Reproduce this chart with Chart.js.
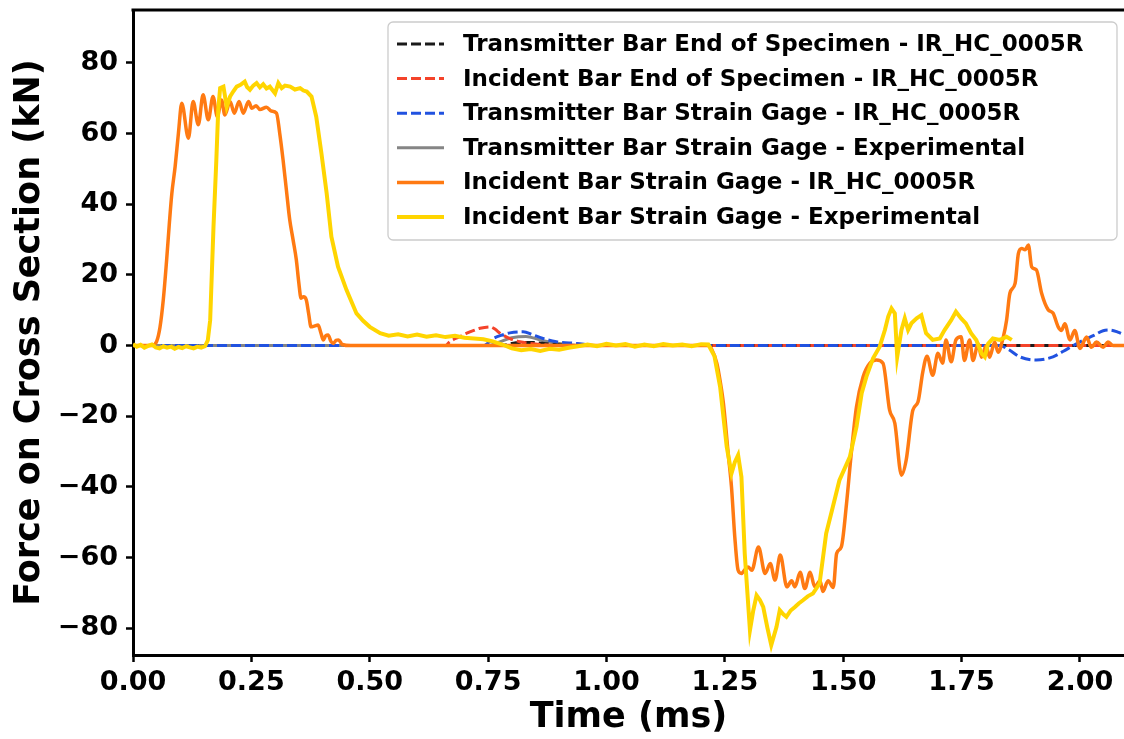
<!DOCTYPE html>
<html>
<head>
<meta charset="utf-8">
<title>Force on Cross Section</title>
<script src="https://cdn.jsdelivr.net/npm/chart.js@4.4.1/dist/chart.umd.min.js"></script>
<style>
  html, body { margin: 0; padding: 0; background: #fff; overflow: hidden; }
  canvas { display: block; }
</style>
</head>
<body>
<canvas id="force-chart" width="1124" height="739"></canvas>
<script>
'use strict';

// axis ticks
const xTicks = [0, 0.25, 0.5, 0.75, 1.0, 1.25, 1.5, 1.75, 2.0];
const yTicks = [-80, -60, -40, -20, 0, 20, 40, 60, 80];

// Transmitter bar, end of specimen (IR_HC_0005R)
const transEndT = [0, 0.78, 0.80, 0.84, 0.88, 0.95, 2.10];
const transEndF = [0, 0, 0.6, 0.9, 0.4, 0, 0];

// Incident bar, end of specimen (IR_HC_0005R)
const incEndT = [0, 0.660, 0.669, 0.690, 0.705, 0.720, 0.733, 0.754, 0.765, 0.775, 0.796, 0.817, 0.840, 0.860, 0.900, 2.10];
const incEndF = [0, 0, 1.1, 2.5, 3.5, 4.3, 4.9, 5.3, 4.6, 3.5, 2.0, 1.1, 0.6, 0.3, 0, 0];

// Transmitter bar strain gage (IR_HC_0005R)
const transSgT = [0, 0.740, 0.761, 0.780, 0.796, 0.824, 0.845, 0.866, 0.894, 0.937, 0.980, 1.830, 1.850, 1.873, 1.908, 1.943, 1.965, 1.986, 2.008, 2.028, 2.049, 2.063, 2.080, 2.100];
const transSgF = [0, 0, 2.0, 3.0, 3.6, 3.9, 3.0, 2.0, 1.1, 0.6, 0, 0, -1.2, -3.2, -4.1, -3.2, -1.6, 0, 1.6, 2.8, 4.2, 4.4, 3.8, 2.6];

// Transmitter bar strain gage (experimental)
const transExpT = [0, 0.75, 0.77, 0.80, 0.83, 0.86, 0.90, 0.95, 1.856];
const transExpF = [0, 0, 0.8, 2.2, 2.6, 1.6, 0.6, 0, 0];

// Incident bar strain gage (IR_HC_0005R)
const incSgT = [
  0, 0.040, 0.050, 0.057, 0.064, 0.071, 0.077, 0.082, 0.089, 0.096, 0.103, 0.117, 0.127, 0.138, 0.148,
  0.159, 0.169, 0.178, 0.187, 0.194, 0.205, 0.214, 0.224, 0.233, 0.244, 0.251, 0.260, 0.268, 0.282,
  0.292, 0.303, 0.310, 0.317, 0.324, 0.331, 0.338, 0.345, 0.350, 0.355, 0.360, 0.366, 0.371, 0.376,
  0.383, 0.391, 0.397, 0.402, 0.407, 0.412, 0.418, 0.423, 0.429, 0.434, 0.442, 0.460,
  1.215, 1.222, 1.233, 1.240, 1.247, 1.257, 1.264, 1.271, 1.278, 1.285, 1.292, 1.299, 1.307, 1.321,
  1.335, 1.346, 1.356, 1.367, 1.381, 1.391, 1.398, 1.409, 1.419, 1.430, 1.440, 1.451, 1.457, 1.468,
  1.479, 1.486, 1.496, 1.507, 1.517, 1.528, 1.542, 1.556, 1.570, 1.584, 1.598, 1.609, 1.623, 1.633,
  1.647, 1.658, 1.668, 1.677, 1.689, 1.700, 1.710, 1.717, 1.728, 1.738, 1.749, 1.756, 1.767, 1.774,
  1.785, 1.792, 1.802, 1.809, 1.820, 1.827, 1.838, 1.845, 1.852, 1.863, 1.870, 1.877, 1.884, 1.891,
  1.898, 1.908, 1.919, 1.933, 1.943, 1.954, 1.961, 1.968, 1.979, 1.989, 2.000, 2.014, 2.024, 2.035,
  2.049, 2.059, 2.070, 2.100
];
const incSgF = [
  0, 0, 1.2, 5.2, 13, 24.2, 35, 43, 50.7, 60.2, 68.6, 58.7, 69.1, 62.5, 71,
  63.9, 70.5, 64.8, 69.5, 65.3, 69.1, 65.8, 69.1, 65.8, 69.1, 67.2, 67.9, 66.8, 67.5,
  66.4, 65.8, 60, 52.5, 44, 35.6, 30, 24.2, 18, 13.4, 13.8, 12.9, 9, 5.3,
  5.5, 5.8, 3.5, 1.6, 2.8, 3.0, 1.2, 0.6, 1.5, 1.6, 0.3, 0,
  0, -1, -5, -10, -16.4, -30.5, -40, -54.2, -63.6, -64.5, -63.5, -62.7, -63.6, -57,
  -64.5, -61.7, -66.4, -59.3, -68.3, -66.6, -68.3, -64.2, -68.8, -64.2, -68.3, -66.6, -69.6, -66.6,
  -68.5, -58.9, -57, -44.7, -30.5, -17.3, -8.8, -5, -4.1, -5, -18.3, -22, -36.7, -32.4,
  -18.3, -15.9, -7.5, -3, -8.4, -2.2, -5, 1.6, -4.6, 1.6, 2.5, -4.2, 1.6, -4.2,
  0.5, -3.3, 0, -3.3, 1, -1.9, 2.4, 7.2, 14.8, 17.6, 26.1, 27.5, 27.1, 28.5,
  22.3, 21.4, 14.8, 10.1, 9.2, 5.3, 4.3, 6.2, 1.6, 4.3, -0.8, 2.4, -0.5, 1.0,
  -0.5, 1.0, 0, 0
];

// Incident bar strain gage (experimental)
const incExpT = [
  0.000, 0.008, 0.016, 0.024, 0.032, 0.040, 0.048, 0.056, 0.064, 0.072, 0.080, 0.088, 0.096, 0.104,
  0.112, 0.120, 0.128, 0.136, 0.144, 0.152, 0.158, 0.163, 0.170, 0.176, 0.180, 0.184, 0.191, 0.198,
  0.205, 0.212, 0.219, 0.227, 0.236, 0.241, 0.247, 0.254, 0.261, 0.268, 0.275, 0.282, 0.289, 0.300,
  0.307, 0.314, 0.321, 0.332, 0.342, 0.353, 0.360, 0.367, 0.377, 0.387, 0.398, 0.409, 0.419, 0.433,
  0.451, 0.472, 0.486, 0.500, 0.522, 0.540, 0.560, 0.580, 0.600, 0.620, 0.640, 0.660, 0.680, 0.700,
  0.720, 0.740, 0.760, 0.780, 0.800, 0.820, 0.840, 0.860, 0.880, 0.900, 0.920, 0.940, 0.960, 0.980,
  1.000, 1.020, 1.040, 1.060, 1.080, 1.100, 1.120, 1.140, 1.160, 1.180, 1.200, 1.215, 1.228, 1.240,
  1.254, 1.264, 1.271, 1.278, 1.285, 1.292, 1.303, 1.310, 1.317, 1.324, 1.331, 1.340, 1.348, 1.359,
  1.366, 1.373, 1.380, 1.389, 1.398, 1.406, 1.415, 1.425, 1.436, 1.450, 1.464, 1.478, 1.492, 1.514,
  1.528, 1.539, 1.549, 1.563, 1.577, 1.588, 1.595, 1.602, 1.609, 1.614, 1.623, 1.630, 1.637, 1.644,
  1.655, 1.665, 1.675, 1.689, 1.704, 1.714, 1.728, 1.738, 1.749, 1.759, 1.770, 1.781, 1.792, 1.799,
  1.806, 1.816, 1.831, 1.845, 1.856
];
const incExpF = [
  0.4, -0.3, 0.2, -0.6, -0.1, 0.3, -0.5, -0.8, -0.2, -0.6, -0.3, -0.9, -0.4, -0.7,
  -0.2, -0.5, -0.8, -0.3, -0.6, -0.2, 1.5, 7.2, 33.6, 52.5, 66.7, 72.9, 73.3, 67.6,
  70.5, 72, 73.3, 73.8, 74.7, 73.2, 72.4, 73.6, 74.3, 73.1, 74.0, 72.8, 73.3, 71.4,
  74.3, 72.9, 73.6, 73.3, 72.5, 72.9, 72.2, 71.9, 70.5, 64.8, 54.4, 43.1, 30.8, 22.3,
  15.7, 9.1, 7, 5.3, 3.5, 2.8, 3.2, 2.6, 3.1, 2.5, 2.9, 2.4, 2.8, 2.2,
  2.0, 1.8, 1.2, 0.3, -0.8, -1.3, -1.0, -1.5, -0.9, -1.2, -0.6, -0.2, 0.3, -0.2,
  0.5, 0, 0.4, -0.3, 0.3, -0.2, 0.4, 0, 0.3, -0.2, 0.4, 0.3, -3, -11.7,
  -28.7, -36.2, -33, -31, -37.2, -58.9, -80.6, -75, -70.7, -72, -74, -80, -84.8, -79.7,
  -74.9, -76, -76.8, -75, -74, -73, -72.1, -71, -70.2, -67.4, -53.2, -45.7, -38.1, -31.5,
  -23, -13.5, -8.8, -3.6, -0.3, 4.4, 8.2, 10.5, 9.1, -3.2, 4.4, 7.7, 4.4, 6.3,
  7.7, 8.6, 3.5, 1.6, 2, 4.4, 7.2, 9.6, 7.7, 6.3, 3.5, 1.6, -2.2, -3.2,
  0.5, 2, 1.6, 2.5, 1.6
];

const FONT = 'DejaVu Sans';
Chart.defaults.font.family = FONT;
Chart.defaults.color = '#000';

function pts(t, f) {
  return t.map((v, i) => ({ x: v, y: f[i] }));
}

function fmtY(v) {
  return v < 0 ? '\u2212' + Math.abs(v) : String(v);
}

// top spine (matplotlib box) – the right one is cut off in the picture
const topSpine = {
  id: 'topSpine',
  afterDraw(chart) {
    const { ctx, chartArea } = chart;
    ctx.save();
    ctx.strokeStyle = '#000';
    ctx.lineWidth = 3;
    ctx.beginPath();
    ctx.moveTo(chartArea.left - 1.5, chartArea.top);
    ctx.lineTo(chartArea.right, chartArea.top);
    ctx.stroke();
    ctx.restore();
  }
};

// framed legend in the upper right, like matplotlib's
const legendBox = {
  id: 'legendBox',
  afterDatasetsDraw(chart) {
    const { ctx, chartArea } = chart;
    const w = 729, h = 218;
    const x0 = chartArea.right - 7 - w, y0 = chartArea.top + 12;
    ctx.save();
    ctx.beginPath();
    ctx.roundRect(x0, y0, w, h, 5);
    ctx.fillStyle = 'rgba(255,255,255,0.85)';
    ctx.fill();
    ctx.strokeStyle = '#cccccc';
    ctx.lineWidth = 1.3;
    ctx.stroke();
    ctx.font = 'bold 23px "' + FONT + '"';
    ctx.textBaseline = 'middle';
    chart.data.datasets.forEach((ds, row) => {
      const y = y0 + 22 + row * 34.6;
      ctx.strokeStyle = ds.borderColor;
      ctx.lineWidth = ds.borderWidth;
      ctx.setLineDash(ds.borderDash || []);
      ctx.beginPath();
      ctx.moveTo(x0 + 9, y);
      ctx.lineTo(x0 + 56, y);
      ctx.stroke();
      ctx.setLineDash([]);
      ctx.fillStyle = '#000';
      ctx.fillText(ds.label, x0 + 75, y + 1);
    });
    ctx.restore();
  }
};

const DASH = [10, 4];

new Chart(document.getElementById('force-chart'), {
  type: 'line',
  data: {
    datasets: [
      { label: 'Transmitter Bar End of Specimen - IR_HC_0005R', data: pts(transEndT, transEndF),
        borderColor: '#1a1a1a', borderWidth: 3, borderDash: DASH, order: 4, cubicInterpolationMode: 'monotone' },
      { label: 'Incident Bar End of Specimen - IR_HC_0005R', data: pts(incEndT, incEndF),
        borderColor: '#f4432a', borderWidth: 3, borderDash: DASH, order: 3, cubicInterpolationMode: 'monotone' },
      { label: 'Transmitter Bar Strain Gage - IR_HC_0005R', data: pts(transSgT, transSgF),
        borderColor: '#2152e0', borderWidth: 3, borderDash: DASH, order: 2, cubicInterpolationMode: 'monotone' },
      { label: 'Transmitter Bar Strain Gage - Experimental', data: pts(transExpT, transExpF),
        borderColor: '#858585', borderWidth: 3, order: 5, cubicInterpolationMode: 'monotone' },
      { label: 'Incident Bar Strain Gage - IR_HC_0005R', data: pts(incSgT, incSgF),
        borderColor: '#ff7a12', borderWidth: 3.5, order: 1, cubicInterpolationMode: 'monotone' },
      { label: 'Incident Bar Strain Gage - Experimental', data: pts(incExpT, incExpF),
        borderColor: '#ffd500', borderWidth: 4, order: 0, tension: 0 }
    ]
  },
  options: {
    responsive: false,
    animation: false,
    events: [],
    elements: { point: { radius: 0 }, line: { fill: false, borderCapStyle: 'butt' } },
    layout: { padding: { top: 10, right: 0, bottom: 0, left: 0 } },
    plugins: { legend: { display: false }, tooltip: { enabled: false } },
    scales: {
      x: {
        type: 'linear', min: 0, max: 2.093,
        afterBuildTicks: s => { s.ticks = xTicks.map(v => ({ value: v })); },
        afterFit: s => { s.height = 84; s.paddingLeft = 0; s.paddingRight = 0; },
        grid: { drawOnChartArea: false, tickLength: 7, tickWidth: 2.5, tickColor: '#000' },
        border: { display: true, color: '#000', width: 3 },
        ticks: { color: '#000', padding: 5, maxRotation: 0, autoSkip: false,
                 font: { size: 27, weight: 'bold' }, callback: v => v.toFixed(2) },
        title: { display: true, text: 'Time (ms)', color: '#000',
                 font: { size: 35, weight: 'bold' }, padding: { top: 0, bottom: 0 } }
      },
      y: {
        type: 'linear', min: -87.6, max: 95,
        afterBuildTicks: s => { s.ticks = yTicks.map(v => ({ value: v })); },
        afterFit: s => { s.width = 133; s.paddingTop = 0; s.paddingBottom = 0; },
        grid: { drawOnChartArea: false, tickLength: 7, tickWidth: 2.5, tickColor: '#000' },
        border: { display: true, color: '#000', width: 3 },
        ticks: { color: '#000', padding: 8, font: { size: 27, weight: 'bold' }, callback: v => fmtY(v) },
        title: { display: true, text: 'Force on Cross Section (kN)', color: '#000',
                 font: { size: 35, weight: 'bold' }, padding: { top: 9, bottom: 0 } }
      }
    }
  },
  plugins: [legendBox, topSpine]
});
</script>
</body>
</html>
